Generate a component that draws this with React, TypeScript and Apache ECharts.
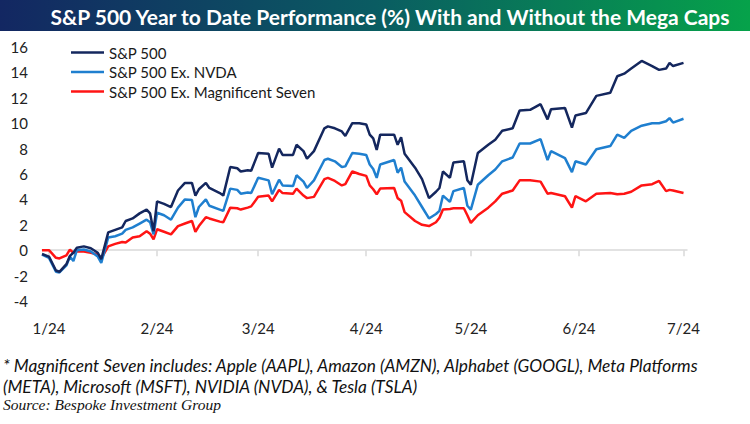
import React, { useEffect, useRef } from "react";
import * as echarts from "echarts";

const dates = [
  "2023-12-30", "2024-01-01", "2024-01-03", "2024-01-04", "2024-01-06", "2024-01-07", "2024-01-08", "2024-01-09",
  "2024-01-11", "2024-01-13", "2024-01-15", "2024-01-16", "2024-01-18", "2024-01-20", "2024-01-22", "2024-01-23",
  "2024-01-25", "2024-01-27", "2024-01-29", "2024-01-30", "2024-01-31", "2024-02-01", "2024-02-03", "2024-02-05",
  "2024-02-07", "2024-02-09", "2024-02-11", "2024-02-12", "2024-02-13", "2024-02-15", "2024-02-16", "2024-02-19",
  "2024-02-20", "2024-02-22", "2024-02-24", "2024-02-25", "2024-02-27", "2024-02-28", "2024-03-01", "2024-03-04",
  "2024-03-05", "2024-03-07", "2024-03-08", "2024-03-11", "2024-03-12", "2024-03-14", "2024-03-15", "2024-03-17",
  "2024-03-20", "2024-03-21", "2024-03-23", "2024-03-25", "2024-03-26", "2024-03-28", "2024-03-30", "2024-04-01",
  "2024-04-02", "2024-04-03", "2024-04-04", "2024-04-05", "2024-04-09", "2024-04-10", "2024-04-11", "2024-04-12",
  "2024-04-15", "2024-04-17", "2024-04-19", "2024-04-21", "2024-04-22", "2024-04-23", "2024-04-25", "2024-04-26",
  "2024-04-29", "2024-04-30", "2024-05-01", "2024-05-03", "2024-05-06", "2024-05-08", "2024-05-10", "2024-05-13",
  "2024-05-15", "2024-05-18", "2024-05-21", "2024-05-23", "2024-05-24", "2024-05-28", "2024-05-30", "2024-05-31",
  "2024-06-03", "2024-06-06", "2024-06-10", "2024-06-12", "2024-06-14", "2024-06-16", "2024-06-19", "2024-06-22",
  "2024-06-24", "2024-06-26", "2024-06-27", "2024-06-28", "2024-07-01",
];

const sp500 = [
  -0.3, -0.5, -1.6, -1.7, -1.1, -0.45, -0.2, 0.2,
  0.3, 0.15, -0.2, -0.7, 1.4, 1.6, 1.8, 2.3,
  2.5, 2.9, 3.2, 2.9, 1.5, 3.85, 3.65, 3.4,
  4.7, 5.3, 5.3, 4.3, 4.8, 5.3, 4.9, 4.5,
  4.3, 6.55, 6.45, 6.2, 6.3, 6.25, 7.65, 7.6,
  6.5, 8.0, 7.5, 7.5, 8.3, 7.8, 7.2, 7.8,
  9.6, 9.75, 9.6, 9.35, 9.0, 10.0, 10.0, 9.9,
  9.1, 8.8, 7.9, 9.1, 9.1, 8.3, 8.9, 7.6,
  6.5, 5.6, 4.1, 4.6, 4.9, 6.2, 5.7, 6.9,
  7.0, 5.5, 5.15, 7.65, 8.3, 8.7, 9.4, 9.6,
  11.0, 11.05, 11.5, 10.3, 11.1, 11.2, 9.65, 10.6,
  10.8, 12.15, 12.4, 13.7, 13.9, 14.3, 14.9, 14.5,
  14.2, 14.3, 14.75, 14.5, 14.75,
];

const exNvda = [
  -0.35, -0.6, -1.7, -1.75, -1.2, -0.5, -0.85, 0.0,
  0.05, -0.1, -0.5, -1.0, 1.0, 1.1, 1.3, 1.6,
  1.8, 2.1, 2.4, 2.2, 1.25, 2.95, 2.75, 2.4,
  3.35, 4.0, 3.95, 2.6, 3.4, 4.0, 3.5, 3.2,
  3.1, 4.85, 4.75, 4.45, 4.55, 4.5, 5.7, 5.5,
  4.4, 5.55, 5.1, 5.05, 5.9, 5.4, 4.9, 5.5,
  7.1, 7.2, 7.0, 6.55, 6.6, 7.65, 7.6, 7.5,
  6.75, 6.4, 5.7, 6.75, 7.1, 6.1, 6.5, 5.4,
  4.3, 3.4, 2.5, 2.85, 3.1, 4.3, 3.8, 4.65,
  4.9, 3.5, 3.2, 5.15, 5.9, 6.35, 7.0, 7.3,
  8.4, 8.4, 8.75, 7.1, 7.8, 7.25, 6.15, 7.0,
  6.75, 7.95, 8.2, 9.1, 8.85, 9.4, 9.8, 10.0,
  10.0, 10.15, 10.4, 10.05, 10.35,
];

const exMag7 = [
  0.0, 0.0, -0.6, -0.65, -0.4, 0.05, -0.2, -0.1,
  -0.1, -0.2, -0.35, -0.65, 0.3, 0.5, 0.65, 0.6,
  1.0, 1.1, 1.5, 1.3, 0.85, 1.65, 1.45, 1.25,
  1.9, 2.1, 2.3, 1.45, 1.9, 2.6, 2.5, 2.25,
  2.2, 3.35, 3.3, 3.2, 3.35, 3.45, 4.2, 4.3,
  3.85, 4.75, 4.5, 4.45, 4.85, 4.3, 4.1, 4.2,
  5.6, 5.7, 5.45, 5.1, 5.2, 6.2, 6.0, 5.85,
  5.1, 4.8, 4.4, 4.85, 4.9, 4.1, 3.9, 3.0,
  2.3, 2.0, 1.9, 2.2, 2.55, 3.2, 3.25, 3.3,
  3.3, 2.75, 2.15, 2.75, 3.35, 3.85, 4.45, 4.7,
  5.5, 5.5, 5.4, 4.45, 4.5, 4.25, 3.35, 4.25,
  3.85, 4.45, 4.5, 4.4, 4.45, 4.6, 5.1, 5.2,
  5.45, 4.65, 4.75, 4.7, 4.5,
];

const seriesNames = ["S&P 500", "S&P 500 Ex. NVDA", "S&P 500 Ex. Magnificent Seven"];
const seriesColors = ["#14275e", "#1f7fcf", "#ff1414"];

const tickDates = ["2024-01-01", "2024-02-01", "2024-03-01", "2024-04-01", "2024-05-01", "2024-06-01", "2024-07-01"];
const tickLabels = ["1/24", "2/24", "3/24", "4/24", "5/24", "6/24", "7/24"];
const axisStart = "2023-12-30";
const axisEnd = "2024-07-02";

const titleText = "S&P 500 Year to Date Performance (%) With and Without the Mega Caps";
const noteLines = [
  "* Magnificent Seven includes: Apple (AAPL), Amazon (AMZN), Alphabet (GOOGL), Meta Platforms",
  "(META), Microsoft (MSFT), NVIDIA (NVDA), & Tesla (TSLA)",
];
const sourceText = "Source: Bespoke Investment Group";

const DAY = 86400000;
const T0 = Date.UTC(2024, 0, 1);
const dayOf = (s: string) => Math.round((Date.parse(s) - T0) / DAY);

export default function App() {
  const ref = useRef<HTMLDivElement>(null);
  useEffect(() => {
    if (!ref.current) return;
    const chart = echarts.init(ref.current, null, { renderer: "svg" });
    const tickDays = tickDates.map(dayOf);
    const values = [sp500, exNvda, exMag7];
    const font = "Lato, 'Open Sans', sans-serif";
    chart.setOption({
      animation: false,
      backgroundColor: "#ffffff",
      grid: { left: 42, right: 63, top: 47, bottom: 123, outerBoundsMode: "none" },
      legend: {
        orient: "vertical",
        left: 66,
        top: 40,
        icon: "rect",
        itemWidth: 33,
        itemHeight: 2.5,
        itemGap: 4.5,
        textStyle: { fontSize: 15, lineHeight: 15, color: "#1a1a1a", fontFamily: font },
        data: seriesNames,
      },
      xAxis: {
        type: "value",
        min: dayOf(axisStart),
        max: dayOf(axisEnd),
        axisLine: { show: true, onZero: true, lineStyle: { color: "#d9d9d9", width: 1.5 } },
        axisTick: { show: true, length: 6, customValues: tickDays, lineStyle: { color: "#d9d9d9", width: 1.5 } },
        axisLabel: {
          customValues: tickDays,
          formatter: (v: number) => {
            const i = tickDays.indexOf(Math.round(v));
            return i >= 0 ? tickLabels[i] : "";
          },
          margin: 19,
          fontSize: 15,
          color: "#222",
          fontFamily: font,
        },
        splitLine: { show: false },
      },
      yAxis: {
        type: "value",
        min: -4,
        max: 16,
        interval: 2,
        axisLine: { show: false },
        axisTick: { show: false },
        splitLine: { show: false },
        axisLabel: { margin: 14, fontSize: 15, color: "#222", fontFamily: font },
      },
      series: seriesNames.map((name, k) => ({
        name,
        type: "line",
        symbol: "none",
        color: seriesColors[k],
        lineStyle: { width: 2.5, color: seriesColors[k] },
        data: dates.map((d, i) => [dayOf(d), values[k][i]]),
        z: 3 - k,
      })),
      graphic: [
        {
          type: "rect",
          left: 0,
          top: 0,
          shape: { width: 750, height: 31 },
          style: {
            fill: new echarts.graphic.LinearGradient(0, 0, 1, 0, [
              { offset: 0, color: "#132762" },
              { offset: 0.5, color: "#0a5c62" },
              { offset: 1, color: "#06a24a" },
            ]),
          },
          silent: true,
        },
        {
          type: "text",
          x: 390,
          y: 16,
          style: {
            text: titleText,
            fill: "#ffffff",
            font: `bold 21px ${font}`,
            textAlign: "center",
            textVerticalAlign: "middle",
          },
        },
        {
          type: "text",
          x: 3,
          y: 365,
          style: { text: noteLines[0], fill: "#111", font: `italic 17.3px ${font}`, textVerticalAlign: "middle" },
        },
        {
          type: "text",
          x: 3,
          y: 386,
          style: { text: noteLines[1], fill: "#111", font: `italic 17.3px ${font}`, textVerticalAlign: "middle" },
        },
        {
          type: "text",
          x: 3,
          y: 404,
          style: {
            text: sourceText,
            fill: "#111",
            font: `italic 15.5px 'Liberation Serif', 'Times New Roman', serif`,
            textVerticalAlign: "middle",
          },
        },
      ],
    });
    return () => chart.dispose();
  }, []);
  return <div ref={ref} style={{ position: "fixed", left: 0, top: 0, width: 750, height: 424 }} />;
}
